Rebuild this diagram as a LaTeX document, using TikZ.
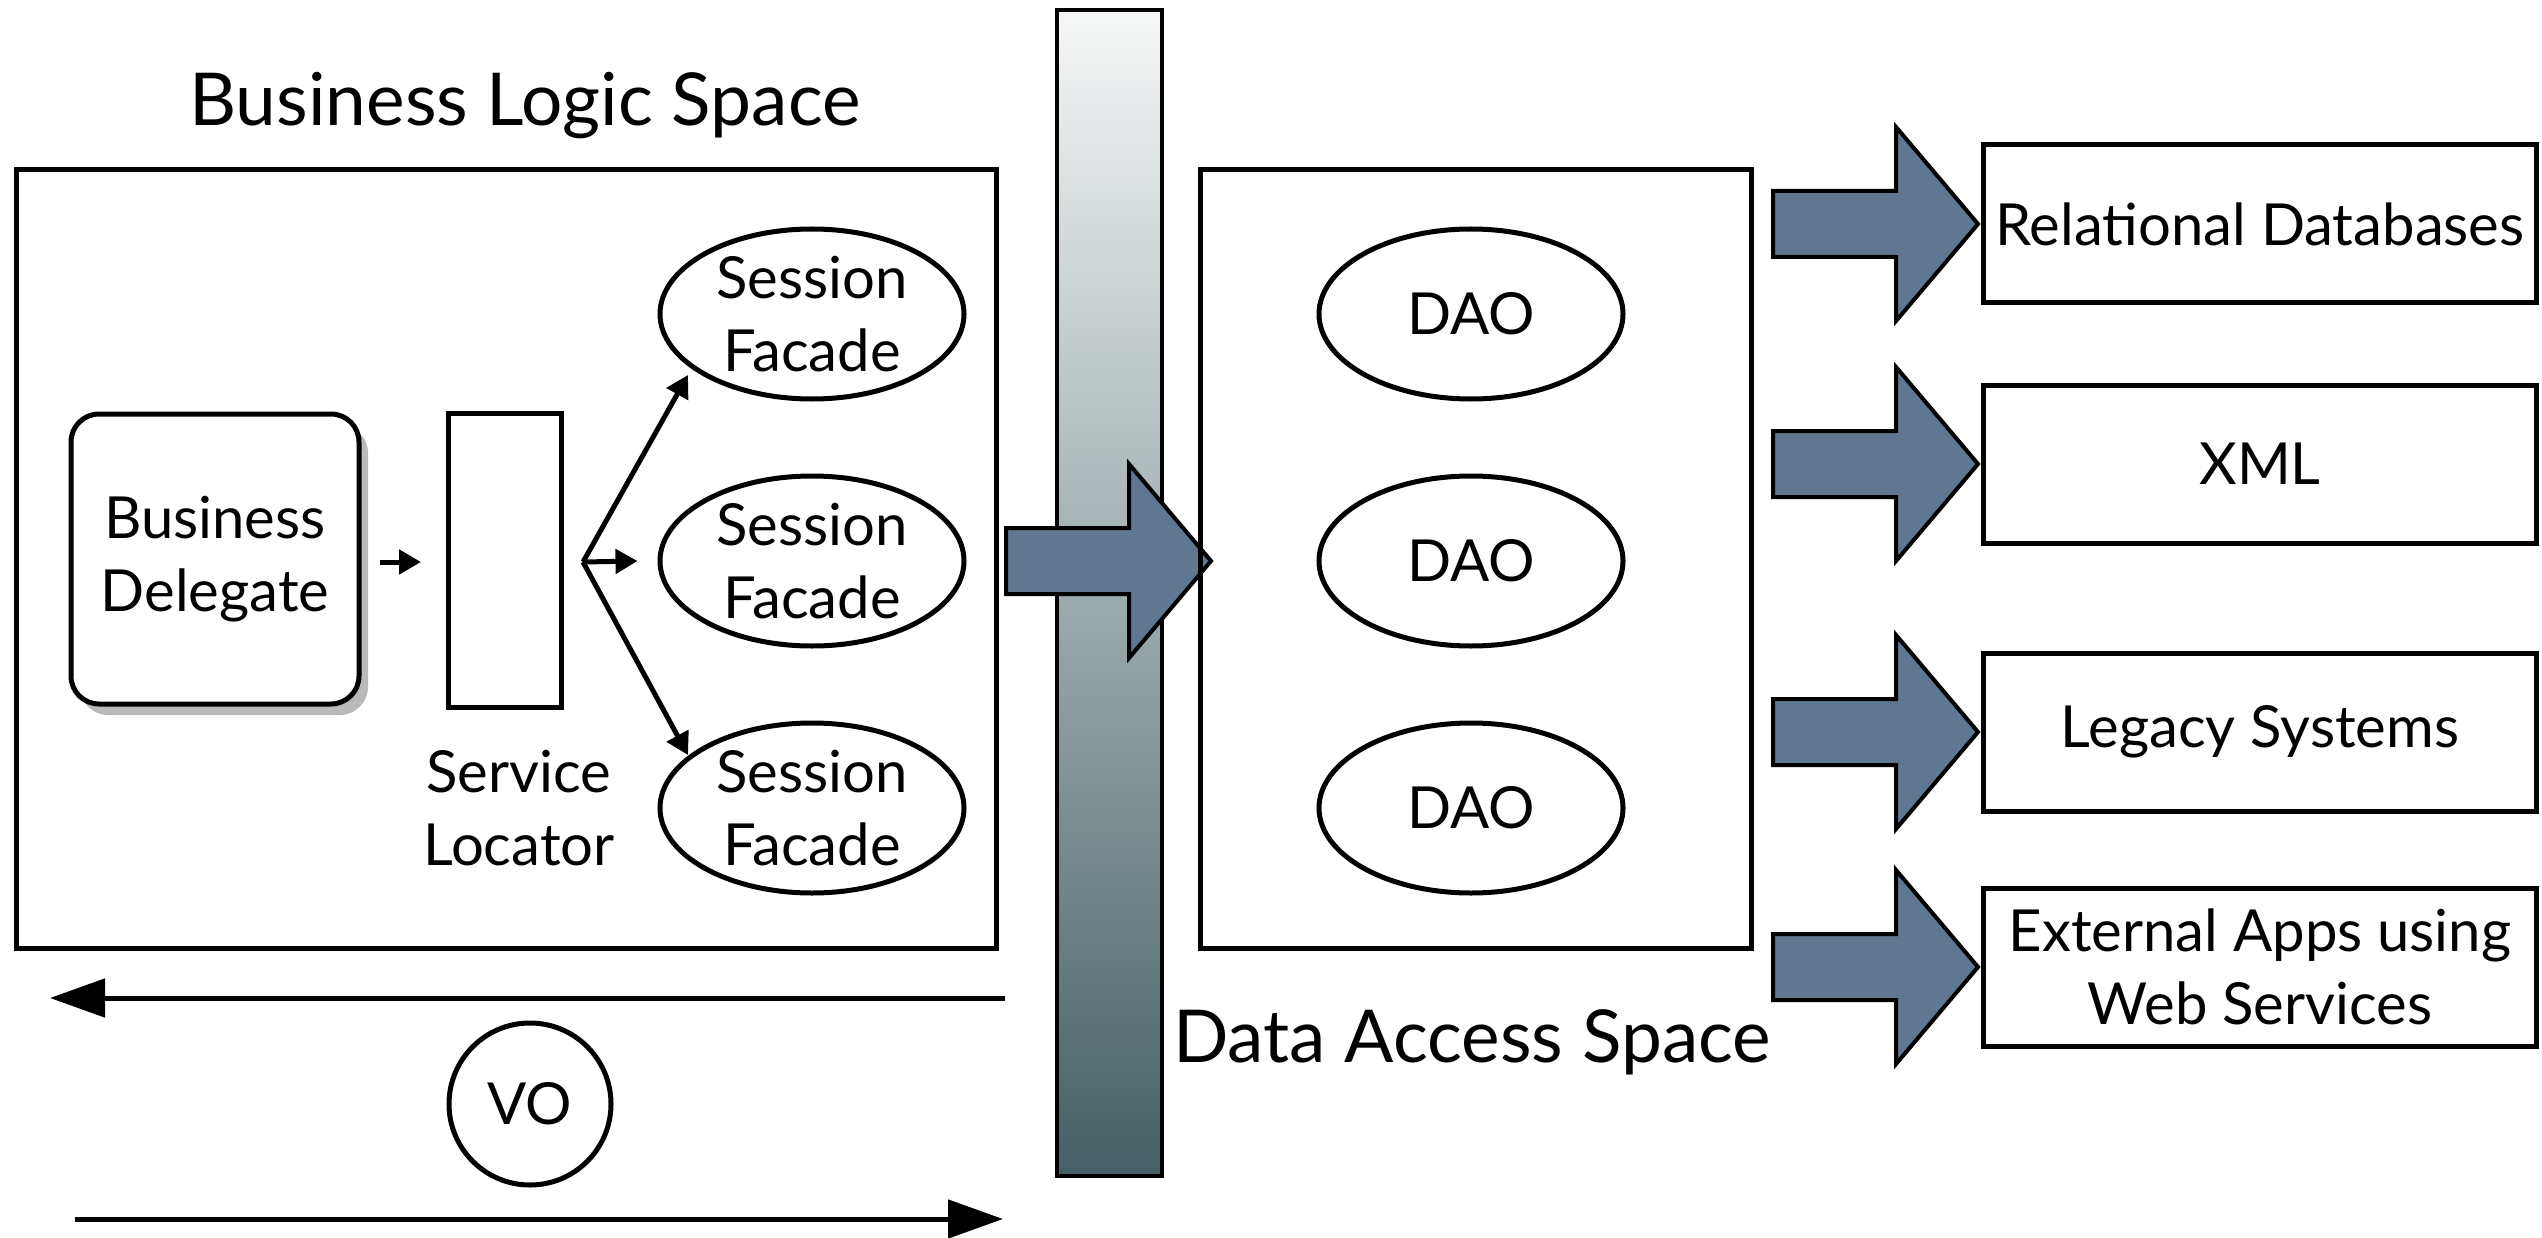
\documentclass[tikz,border=0pt]{standalone}
\usepackage{fontspec}
\setmainfont{Lato}
\usetikzlibrary{shapes.geometric,shadows,arrows.meta}
\definecolor{arrowblue}{RGB}{96,119,146}
\definecolor{bartop}{RGB}{246,247,247}
\definecolor{barbot}{RGB}{68,96,100}
\newcommand\fsbody{\fontsize{58}{73}\selectfont}
\newcommand\fstitle{\fontsize{73}{86}\selectfont}
\begin{document}
\begin{tikzpicture}[x=1pt,y=-1pt,
  spacebox/.style={draw, line width=5pt, inner sep=0pt, minimum height=778pt},
  bdbox/.style={draw, line width=5pt, rounded corners=28pt, fill=white,
    minimum width=288pt, minimum height=290pt, align=center, font=\fsbody,
    drop shadow={shadow xshift=9pt, shadow yshift=-11pt, fill=black!45, opacity=0.6}},
  slbox/.style={draw, line width=5pt, minimum width=113pt, minimum height=294pt, inner sep=0pt},
  ell/.style={ellipse, draw, line width=5pt, minimum width=304pt, minimum height=170pt,
    inner sep=0pt, align=center, font=\fsbody},
  target/.style={draw, line width=5pt, minimum width=553pt, minimum height=158pt,
    inner sep=0pt, align=center, font=\fsbody},
  label/.style={align=center, font=\fsbody, inner sep=0pt},
  title/.style={font=\fstitle, inner sep=0pt},
  arr/.style={line width=5pt, -{Triangle[length=22pt,width=24pt]}},
  longarr/.style={line width=5pt, -{Triangle[length=55pt,width=38pt]}},
  blockarrow/.pic={\draw[line width=4pt, fill=arrowblue, line join=miter]
    (0,-33) -- (123,-33) -- (123,-97) -- (205,0) -- (123,97) -- (123,33) -- (0,33) -- cycle;}
]
\useasboundingbox (0,0) rectangle (2542,1238);

% Business logic space
\node[title] (blstitle) at (525,106) {Business Logic Space};
\node[spacebox, minimum width=980pt] (bls) at (506,559) {};
\node[bdbox] (bd) at (215,559) {Business\\Delegate};
\node[slbox] (sl) at (505,560) {};
\node[label] (sllabel) at (519,808) {Service\\Locator};
\node[ell] (sf1) at (812,314) {Session\\Facade};
\node[ell] (sf2) at (812,561) {Session\\Facade};
\node[ell] (sf3) at (812,808) {Session\\Facade};
\coordinate (fork) at (583,562);
\draw[arr, shorten <=18pt, shorten >=25pt] (bd.east |- fork) -- (sl.west |- fork);
\draw[arr] (fork) -- ([xshift=-124pt,yshift=-61pt]sf1.center);
\draw[arr] (fork) -- ([xshift=-20pt]sf2.west);
\draw[arr] (fork) -- ([xshift=-124pt,yshift=53pt]sf3.center);

% separator bar
\node[draw, line width=4pt, top color=bartop, bottom color=barbot,
  minimum width=105pt, minimum height=1166pt, inner sep=0pt] (bar) at (1109.5,593) {};
\pic at (1006,561) {blockarrow};

% Data access space
\node[spacebox, minimum width=551pt] (das) at (1475.5,559) {};
\node[ell] (dao1) at (1471,314) {DAO};
\node[ell] (dao2) at (1471,561) {DAO};
\node[ell] (dao3) at (1471,808) {DAO};
\node[title] (dastitle) at (1472,1042) {Data Access Space};

% targets
\node[target] (rdb) at (2260,224) {Relational Databases};
\node[target] (xml) at (2260,464) {XML};
\node[target] (leg) at (2260,732) {Legacy Systems};
\node[target] (ext) at (2260,967) {External Apps using\\Web Services};
\pic at (1773,224) {blockarrow};
\pic at (1773,464) {blockarrow};
\pic at (1773,732) {blockarrow};
\pic at (1773,967) {blockarrow};

% value object transfer
\coordinate (vol) at (50,998);
\coordinate (vor) at (1005,998);
\coordinate (vbl) at (75,1219);
\coordinate (vbr) at (1003,1219);
\draw[longarr] (vor) -- (vol);
\node[circle, draw, line width=5pt, minimum size=162pt, inner sep=0pt, font=\fsbody] (vo) at (530,1104) {VO};
\draw[longarr] (vbl) -- (vbr);
\end{tikzpicture}
\end{document}
